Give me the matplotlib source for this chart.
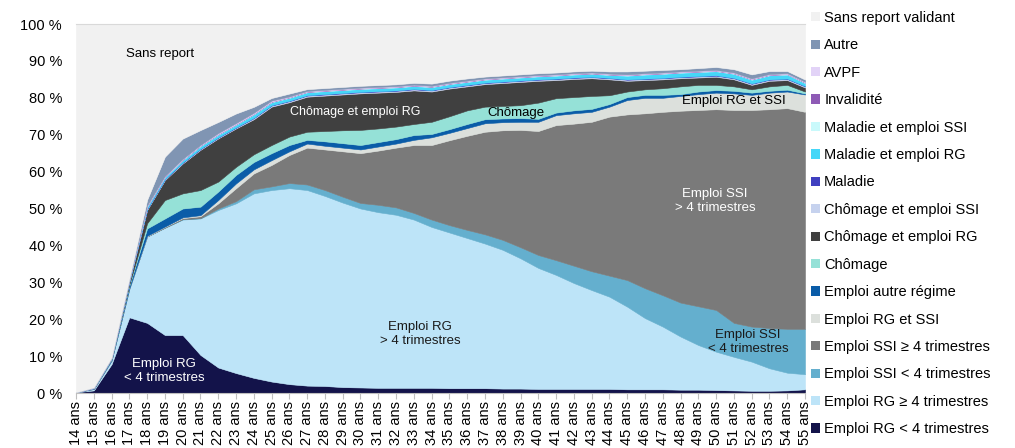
import matplotlib
matplotlib.use("Agg")
import matplotlib.pyplot as plt
from matplotlib.patches import Patch
import numpy as np

plt.rcParams['font.family'] = ['Liberation Sans', 'DejaVu Sans']

# ages 14 .. 55
ages = [f"{a} ans" for a in range(14, 56)]

rg_lt4 = [0.2, 0.7, 7.8, 20.5, 19.0, 15.7, 15.7, 10.3, 6.9, 5.4,
          4.1, 3.1, 2.4, 2.0, 1.9, 1.6, 1.5, 1.4, 1.4, 1.4,
          1.4, 1.3, 1.3, 1.3, 1.2, 1.2, 1.1, 1.1, 1.1, 1.1,
          1.1, 1.0, 1.0, 1.0, 0.9, 0.9, 0.8, 0.7, 0.6, 0.6,
          0.7, 1.0]
rg_ge4 = [0.0, 0.4, 1.0, 7.8, 23.4, 29.1, 31.3, 37.0, 42.7, 46.0,
          50.0, 51.9, 53.1, 53.0, 51.5, 50.0, 48.5, 47.6, 46.9, 45.6,
          43.6, 42.2, 40.7, 39.2, 37.6, 35.3, 32.8, 30.9, 28.7, 26.8,
          25.0, 22.4, 19.3, 17.0, 14.4, 12.1, 10.4, 9.1, 7.9, 6.1,
          4.8, 4.1]
ssi_lt4 = [0, 0, 0, 0, 0, 0, 0.1, 0.1, 0.4, 0.6,
           1.1, 1.0, 1.4, 1.5, 1.6, 1.6, 1.5, 2.0, 2.0, 1.8,
           2.0, 2.0, 2.2, 2.5, 2.7, 3.0, 3.5, 4.0, 4.7, 5.1,
           5.7, 7.2, 8.1, 8.5, 9.2, 10.5, 11.3, 9.2, 9.5, 10.9,
           11.9, 12.3]
ssi_ge4 = [0, 0, 0, 0, 0.1, 0.2, 0.3, 0.5, 1.4, 3.5,
           4.3, 5.8, 7.6, 10.0, 11.0, 12.3, 13.5, 14.7, 16.2, 18.4,
           20.2, 23.0, 25.5, 27.8, 29.7, 31.8, 33.6, 36.6, 38.5, 40.5,
           43.1, 44.9, 47.4, 49.7, 52.0, 53.2, 54.4, 57.7, 58.7, 59.3,
           59.8, 58.8]
rg_ssi = [0, 0, 0, 0, 0.1, 0.1, 0.2, 0.3, 0.9, 1.3,
          1.1, 1.3, 1.0, 1.1, 1.0, 1.0, 1.0, 1.1, 1.1, 1.4,
          2.1, 2.0, 2.1, 2.3, 2.2, 2.2, 2.5, 2.7, 2.8, 2.7,
          2.7, 3.9, 4.2, 3.8, 4.0, 4.3, 4.5, 4.5, 4.1, 4.5,
          4.5, 4.7]
autre_regime = [0, 0.1, 0.3, 0.8, 2.0, 2.2, 2.4, 2.3, 2.3, 2.3,
                2.0, 1.9, 1.7, 1.0, 1.2, 1.2, 1.2, 1.2, 1.2, 1.3,
                0.9, 1.0, 1.1, 1.1, 1.0, 1.0, 0.8, 0.7, 0.8, 0.8,
                0.7, 0.8, 0.8, 0.8, 0.5, 0.7, 0.7, 0.7, 0.6, 0.5,
                0.5, 0.3]
chomage = [0, 0, 0.1, 0.3, 1.4, 5.0, 4.1, 4.5, 2.7, 2.2,
           2.1, 2.2, 2.3, 2.2, 2.8, 3.5, 4.1, 3.7, 3.4, 3.0,
           3.3, 3.5, 3.7, 3.4, 3.4, 3.5, 4.4, 3.9, 3.6, 3.5,
           2.4, 1.5, 1.5, 1.8, 2.1, 1.8, 1.4, 1.2, 0.9, 1.2,
           1.3, 0.5]
chom_rg = [0, 0.1, 0.2, 0.8, 3.6, 5.4, 8.1, 10.9, 11.7, 10.4,
           9.5, 10.4, 9.3, 9.5, 9.6, 9.7, 9.9, 9.7, 9.4, 9.1,
           8.2, 7.5, 6.5, 6.1, 6.2, 6.3, 5.9, 4.9, 4.9, 4.8,
           4.3, 2.9, 2.5, 2.4, 2.2, 2.0, 2.2, 1.9, 1.2, 1.5,
           1.3, 1.1]
chom_ssi = [0, 0, 0, 0.1, 0.2, 0.2, 0.2, 0.2, 0.2, 0.2,
            0.3, 0.3, 0.3, 0.3, 0.3, 0.3, 0.3, 0.3, 0.3, 0.3,
            0.3, 0.3, 0.3, 0.3, 0.3, 0.3, 0.3, 0.3, 0.3, 0.3,
            0.3, 0.3, 0.3, 0.3, 0.3, 0.3, 0.3, 0.3, 0.3, 0.3,
            0.3, 0.3]
maladie = [0, 0, 0, 0, 0.1, 0.1, 0.1, 0.1, 0.1, 0.1,
           0.1, 0.1, 0.1, 0.1, 0.1, 0.1, 0.1, 0.1, 0.1, 0.1,
           0.1, 0.1, 0.1, 0.1, 0.1, 0.1, 0.1, 0.1, 0.1, 0.1,
           0.1, 0.1, 0.1, 0.1, 0.1, 0.1, 0.1, 0.1, 0.1, 0.1,
           0.1, 0.1]
mal_rg = [0, 0.1, 0.1, 0.4, 0.6, 0.5, 0.6, 0.7, 0.7, 0.7,
          0.9, 0.8, 0.8, 0.8, 0.8, 0.8, 0.8, 0.8, 0.8, 0.8,
          0.8, 0.8, 0.8, 0.8, 0.8, 0.8, 0.8, 0.8, 0.8, 0.8,
          0.8, 1.0, 1.1, 1.1, 1.1, 1.1, 1.1, 1.1, 1.0, 1.1,
          1.1, 0.8]
mal_ssi = [0, 0, 0, 0, 0.1, 0.1, 0.1, 0.1, 0.1, 0.1,
           0.1, 0.1, 0.1, 0.1, 0.1, 0.1, 0.1, 0.1, 0.1, 0.1,
           0.1, 0.1, 0.1, 0.1, 0.1, 0.1, 0.1, 0.1, 0.1, 0.1,
           0.1, 0.1, 0.1, 0.1, 0.1, 0.1, 0.1, 0.1, 0.1, 0.1,
           0.1, 0.1]
invalidite = [0, 0, 0, 0, 0.05, 0.05, 0.05, 0.05, 0.05, 0.05,
              0.05, 0.05, 0.05, 0.05, 0.05, 0.05, 0.05, 0.05, 0.05, 0.05,
              0.05, 0.05, 0.05, 0.05, 0.05, 0.05, 0.05, 0.05, 0.05, 0.05,
              0.05, 0.05, 0.05, 0.05, 0.05, 0.05, 0.05, 0.05, 0.05, 0.05,
              0.05, 0.05]
avpf = [0, 0, 0, 0, 0.2, 0.2, 0.2, 0.2, 0.3, 0.3,
        0.3, 0.3, 0.2, 0.2, 0.2, 0.2, 0.2, 0.2, 0.2, 0.2,
        0.2, 0.2, 0.2, 0.2, 0.2, 0.2, 0.2, 0.2, 0.2, 0.2,
        0.2, 0.2, 0.2, 0.2, 0.2, 0.2, 0.2, 0.2, 0.2, 0.2,
        0.2, 0.2]
autre = [0, 0.1, 0.1, 0.3, 1.5, 5.2, 5.5, 4.0, 3.0, 2.6,
         1.6, 0.7, 0.8, 0.5, 0.5, 0.5, 0.5, 0.5, 0.5, 0.5,
         0.6, 0.6, 0.6, 0.5, 0.5, 0.5, 0.5, 0.5, 0.5, 0.5,
         0.6, 0.8, 0.7, 0.7, 0.6, 0.7, 0.8, 0.9, 1.1, 0.8,
         0.6, 0.6]

series = [rg_lt4, rg_ge4, ssi_lt4, ssi_ge4, rg_ssi, autre_regime, chomage,
          chom_rg, chom_ssi, maladie, mal_rg, mal_ssi, invalidite, avpf, autre]
# the rest of the 100 % is "sans report validant"
sans_report = list(100 - np.sum(series, axis=0))
series.append(sans_report)

labels = ["Emploi RG < 4 trimestres", "Emploi RG \u2265 4 trimestres",
          "Emploi SSI < 4 trimestres", "Emploi SSI \u2265 4 trimestres",
          "Emploi RG et SSI", "Emploi autre r\u00e9gime", "Ch\u00f4mage",
          "Ch\u00f4mage et emploi RG", "Ch\u00f4mage et emploi SSI", "Maladie",
          "Maladie et emploi RG", "Maladie et emploi SSI", "Invalidit\u00e9",
          "AVPF", "Autre", "Sans report validant"]
colors = ["#13134A", "#BDE4F8", "#64AFCE", "#7A7A7A", "#DCE0DC", "#0A5CA8",
          "#95E1D7", "#404040", "#C6D2EE", "#4040C0", "#45D7F8", "#C9F9FB",
          "#8E5AB5", "#E2D3F7", "#8095B3", "#F1F1F1"]

fig = plt.figure(figsize=(10.15, 4.48), dpi=100)
ax = fig.add_axes([76 / 1015, 1 - 393 / 448, 729 / 1015, 369 / 448])

x = np.arange(len(ages))
polys = ax.stackplot(x, *series, colors=colors)
for p, c in zip(polys, colors):
    p.set_edgecolor(c)
    p.set_linewidth(0.4)

ax.set_xlim(0, len(ages) - 1)
ax.set_ylim(0, 100)
ax.set_yticks(range(0, 101, 10))
ax.set_yticklabels([f"{v} %" for v in range(0, 101, 10)], fontsize=10.5)
ax.set_xticks(x)
ax.set_xticklabels(ages, rotation=90, fontsize=10.5)
ax.tick_params(axis='y', length=0, pad=10)
ax.tick_params(axis='x', length=4, color='#BFBFBF', pad=2)
for s in ['left', 'right']:
    ax.spines[s].set_visible(False)
ax.spines['top'].set_color('#D9D9D9')
ax.spines['bottom'].set_color('#BFBFBF')

# labels inside the areas
fs = 9.5
ax.text(2.81, 91.9, "Sans report", fontsize=fs, va='center', ha='left')
ax.text(15.7, 76.2, "Ch\u00f4mage et emploi RG", fontsize=9, color='white', ha='center', va='center')
ax.text(24.75, 75.8, "Ch\u00f4mage", fontsize=fs, ha='center', va='center')
ax.text(36.98, 79.2, "Emploi RG et SSI", fontsize=fs, ha='center', va='center')
ax.text(35.94, 52.1, "Emploi SSI\n> 4 trimestres", fontsize=fs, color='white', ha='center', va='center')
ax.text(19.35, 16.0, "Emploi RG\n> 4 trimestres", fontsize=fs, color='#1A1A1A', ha='center', va='center')
ax.text(37.8, 13.8, "Emploi SSI\n< 4 trimestres", fontsize=fs, color='#1A1A1A', ha='center', va='center')
ax.text(4.95, 5.9, "Emploi RG\n< 4 trimestres", fontsize=fs, color='white', ha='center', va='center')

handles = [Patch(facecolor=c, edgecolor='none') for c in colors]
fig.legend(handles[::-1], labels[::-1], loc='upper left',
           bbox_to_anchor=(811 / 1015, 1 - 11 / 448), frameon=False,
           fontsize=10.5, handlelength=0.6, handleheight=0.6,
           handletextpad=0.3, labelspacing=0.92, borderaxespad=0, borderpad=0)

fig.savefig("out.png", dpi=100)
